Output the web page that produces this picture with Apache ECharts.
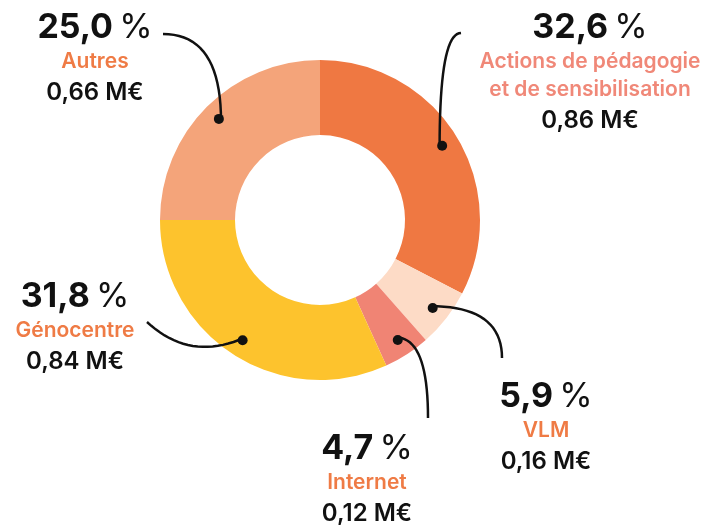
<!DOCTYPE html>
<html>
<head>
<meta charset="utf-8">
<script src="https://cdn.jsdelivr.net/npm/echarts@6/dist/echarts.min.js"></script>
<style>
  html, body { margin: 0; padding: 0; background: #fff; }
  #chart { width: 709px; height: 527px; }
</style>
</head>
<body>
<div id="chart"></div>
<script>
var categories = ['Actions de pédagogie\net de sensibilisation', 'VLM', 'Internet', 'Génocentre', 'Autres'];
var shares = [32.6, 5.9, 4.7, 31.8, 25.0];   // %
var amounts = [0.86, 0.16, 0.12, 0.84, 0.66]; // M€

var colors = ['#EF7842', '#FDDBC6', '#F08474', '#FDC32D', '#F4A47A'];
var nameColors = ['#F08878', '#EF7B45', '#EF7B45', '#EF7B45', '#EF7B45'];

// où va chaque étiquette : centre x, haut y, bout du trait, coude
var labelPos = [
  { x: 590, y: 8, end: [461, 33], bend: 'v' },
  { x: 546, y: 377, end: [502, 358], bend: 'h' },
  { x: 367, y: 429, end: [428, 418], bend: 'h' },
  { x: 75, y: 277, end: [147, 322], corner: [190, 362] },
  { x: 95, y: 8, end: [163, 34], bend: 'v' }
];

var font = 'Inter';
var center = [320, 220];
var dotR = 140;

function fr(v, d) { return v.toFixed(d).replace('.', ','); }

// point d'accroche au milieu de chaque part (même position que les points noirs)
function anchor(i) {
  var before = 0;
  for (var k = 0; k < i; k++) before += shares[k];
  var a = (before + shares[i] / 2) / 100 * 2 * Math.PI;
  return [center[0] + dotR * Math.sin(a), center[1] - dotR * Math.cos(a)];
}

function curve(p0, c, p1) {
  var pts = [];
  for (var t = 0; t <= 1.0001; t += 0.05) {
    var u = 1 - t;
    pts.push([u * u * p0[0] + 2 * u * t * c[0] + t * t * p1[0],
              u * u * p0[1] + 2 * u * t * c[1] + t * t * p1[1]]);
  }
  return pts;
}

var pieData = categories.map(function (c, i) {
  return { name: c, value: shares[i], itemStyle: { color: colors[i] } };
});
var ghostData = categories.map(function (c, i) {
  return { name: c, value: shares[i], itemStyle: { color: 'rgba(0,0,0,0)' } };
});

var nameStyle = function (col) {
  return { fontFamily: font, fontSize: 21, fontWeight: 600, color: col, lineHeight: 28 };
};

var chart = echarts.init(document.getElementById('chart'));
chart.setOption({
  animation: false,
  series: [
    {
      type: 'pie',
      z: 1,
      center: center,
      radius: [85, 160],
      startAngle: 90,
      silent: true,
      label: { show: false },
      labelLine: { show: false },
      itemStyle: { borderWidth: 0 },
      data: pieData
    },
    {
      // traits + textes
      type: 'pie',
      z: 5,
      center: center,
      radius: [0, dotR],
      startAngle: 90,
      silent: true,
      avoidLabelOverlap: false,
      data: ghostData,
      label: {
        show: true,
        position: 'outside',
        formatter: function (p) {
          var i = p.dataIndex;
          var names = categories[i].split('\n').map(function (s) {
            return '{n' + i + '|' + s + '}';
          }).join('\n');
          return '{p|' + fr(shares[i], 1) + '}{q|\u2009%}\n' + names + '\n{m|' + fr(amounts[i], 2) + ' M€}';
        },
        rich: {
          p: { fontFamily: font, fontSize: 34, fontWeight: 'bold', color: '#111', lineHeight: 40 },
          q: { fontFamily: font, fontSize: 34, fontWeight: 'normal', color: '#111', lineHeight: 40 },
          n0: nameStyle(nameColors[0]),
          n1: nameStyle(nameColors[1]),
          n2: nameStyle(nameColors[2]),
          n3: nameStyle(nameColors[3]),
          n4: nameStyle(nameColors[4]),
          m: { fontFamily: font, fontSize: 24, fontWeight: 600, color: '#111', lineHeight: 34 }
        }
      },
      labelLine: {
        show: true,
        smooth: false,
        lineStyle: { color: '#111', width: 2.5 }
      },
      labelLayout: function (params) {
        var i = params.dataIndex;
        var lp = labelPos[i];
        var p0 = anchor(i);
        var c = lp.corner || (lp.bend === 'v' ? [p0[0], lp.end[1]] : [lp.end[0], p0[1]]);
        return {
          x: lp.x,
          y: lp.y,
          align: 'center',
          verticalAlign: 'top',
          labelLinePoints: curve(p0, c, lp.end)
        };
      }
    },
    {
      // points noirs
      type: 'pie',
      z: 6,
      center: center,
      radius: [dotR - 5, dotR + 5],
      startAngle: 90,
      silent: true,
      data: ghostData,
      label: {
        show: true,
        position: 'inside',
        formatter: '{d| }',
        rich: {
          d: { width: 10, height: 10, lineHeight: 10, borderRadius: 5, backgroundColor: '#111' }
        }
      },
      labelLine: { show: false }
    }
  ]
});
</script>
</body>
</html>
